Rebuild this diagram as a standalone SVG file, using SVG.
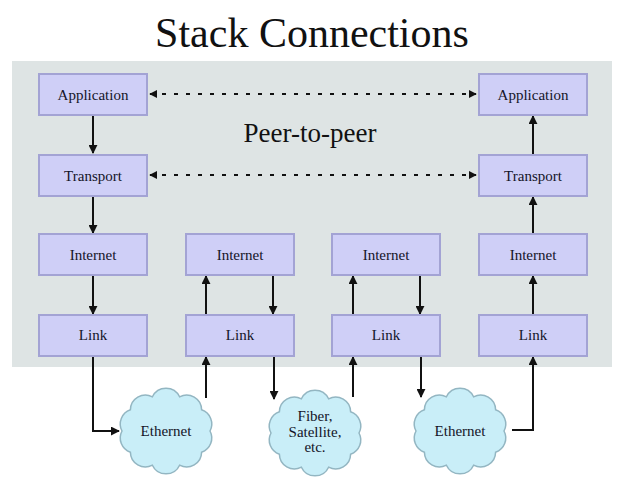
<svg xmlns="http://www.w3.org/2000/svg" width="630" height="494" viewBox="0 0 630 494">
<style>
.box{fill:#cfcff7;stroke:#a3a3d4;stroke-width:2}
.lbl{font-family:"Liberation Serif",serif;font-size:15px;fill:#141428;text-anchor:middle}
.cloud{fill:#c9eef8;stroke:#93b6c2;stroke-width:1.5}
.ln{fill:none;stroke:#111;stroke-width:2}
.dot{fill:none;stroke:#111;stroke-width:2;stroke-dasharray:4 8}
</style>
<defs>
<marker id="ah" viewBox="0 0 10 10" refX="9" refY="5" markerWidth="9" markerHeight="9" markerUnits="userSpaceOnUse" orient="auto-start-reverse">
<path d="M0,0 L10,5 L0,10 z" fill="#111"/>
</marker>
<marker id="ahs" viewBox="0 0 10 10" refX="9" refY="5" markerWidth="8" markerHeight="8" markerUnits="userSpaceOnUse" orient="auto-start-reverse">
<path d="M0,0 L10,5 L0,10 z" fill="#111"/>
</marker>
<path id="cloudShape" d="M44,0 A15 15 0 0 1 35.6,21.2 A15 15 0 0 1 13.6,34.2 A15 15 0 0 1 -13.6,34.2 A15 15 0 0 1 -35.6,21.2 A15 15 0 0 1 -44,0 A15 15 0 0 1 -35.6,-21.2 A15 15 0 0 1 -13.6,-34.2 A15 15 0 0 1 13.6,-34.2 A15 15 0 0 1 35.6,-21.2 A15 15 0 0 1 44,0 z"/>
</defs>
<rect width="630" height="494" fill="#ffffff"/>
<text x="312" y="47" font-family="'Liberation Serif',serif" font-size="42" text-anchor="middle" fill="#111">Stack Connections</text>
<rect x="12" y="61" width="600" height="306" fill="#dee4e4"/>
<text x="310" y="142" font-family="'Liberation Serif',serif" font-size="27" text-anchor="middle" fill="#111">Peer-to-peer</text>

<g id="connectors">
<line class="dot" x1="150" y1="94" x2="476" y2="94" marker-start="url(#ahs)" marker-end="url(#ahs)"/>
<line class="dot" x1="150" y1="175" x2="476" y2="175" marker-start="url(#ahs)" marker-end="url(#ahs)"/>
<line class="ln" x1="93" y1="115" x2="93" y2="153" marker-end="url(#ah)"/>
<line class="ln" x1="93" y1="196" x2="93" y2="233" marker-end="url(#ah)"/>
<line class="ln" x1="93" y1="275" x2="93" y2="314" marker-end="url(#ah)"/>
<polyline class="ln" points="93,356 93,431 119,431" marker-end="url(#ah)"/>
<line class="ln" x1="206" y1="315" x2="206" y2="276" marker-end="url(#ah)"/>
<line class="ln" x1="273" y1="275" x2="273" y2="314" marker-end="url(#ah)"/>
<line class="ln" x1="206" y1="398" x2="206" y2="357" marker-end="url(#ah)"/>
<line class="ln" x1="274" y1="356" x2="274" y2="399" marker-end="url(#ah)"/>
<line class="ln" x1="353" y1="315" x2="353" y2="276" marker-end="url(#ah)"/>
<line class="ln" x1="420" y1="275" x2="420" y2="314" marker-end="url(#ah)"/>
<line class="ln" x1="353" y1="397" x2="353" y2="357" marker-end="url(#ah)"/>
<line class="ln" x1="421" y1="356" x2="421" y2="397" marker-end="url(#ah)"/>
<line class="ln" x1="533" y1="154" x2="533" y2="116" marker-end="url(#ah)"/>
<line class="ln" x1="533" y1="234" x2="533" y2="197" marker-end="url(#ah)"/>
<line class="ln" x1="533" y1="315" x2="533" y2="276" marker-end="url(#ah)"/>
<polyline class="ln" points="512,430 533,430 533,357" marker-end="url(#ah)"/>
</g>

<g id="app1"><rect class="box" x="39" y="74" width="108" height="41"/><text class="lbl" x="93" y="100">Application</text></g>
<g id="trans1"><rect class="box" x="39" y="155" width="108" height="41"/><text class="lbl" x="93" y="181">Transport</text></g>
<g id="inet1"><rect class="box" x="39" y="234" width="108" height="41"/><text class="lbl" x="93" y="260">Internet</text></g>
<g id="link1"><rect class="box" x="39" y="315" width="108" height="41"/><text class="lbl" x="93" y="340">Link</text></g>

<g id="inet2"><rect class="box" x="186" y="234" width="108" height="41"/><text class="lbl" x="240" y="260">Internet</text></g>
<g id="link2"><rect class="box" x="186" y="315" width="108" height="41"/><text class="lbl" x="240" y="340">Link</text></g>

<g id="inet3"><rect class="box" x="332" y="234" width="108" height="41"/><text class="lbl" x="386" y="260">Internet</text></g>
<g id="link3"><rect class="box" x="332" y="315" width="108" height="41"/><text class="lbl" x="386" y="340">Link</text></g>

<g id="app4"><rect class="box" x="479" y="74" width="108" height="41"/><text class="lbl" x="533" y="100">Application</text></g>
<g id="trans4"><rect class="box" x="479" y="155" width="108" height="41"/><text class="lbl" x="533" y="181">Transport</text></g>
<g id="inet4"><rect class="box" x="479" y="234" width="108" height="41"/><text class="lbl" x="533" y="260">Internet</text></g>
<g id="link4"><rect class="box" x="479" y="315" width="108" height="41"/><text class="lbl" x="533" y="340">Link</text></g>

<g id="ethernet1"><use href="#cloudShape" class="cloud" transform="translate(166,431)"/><text class="lbl" x="166" y="436">Ethernet</text></g>
<g id="fiber"><use href="#cloudShape" class="cloud" transform="translate(315,433)"/><text class="lbl" x="315" y="421">Fiber,</text><text class="lbl" x="315" y="437">Satellite,</text><text class="lbl" x="315" y="452">etc.</text></g>
<g id="ethernet2"><use href="#cloudShape" class="cloud" transform="translate(460,431)"/><text class="lbl" x="460" y="436">Ethernet</text></g>
</svg>
